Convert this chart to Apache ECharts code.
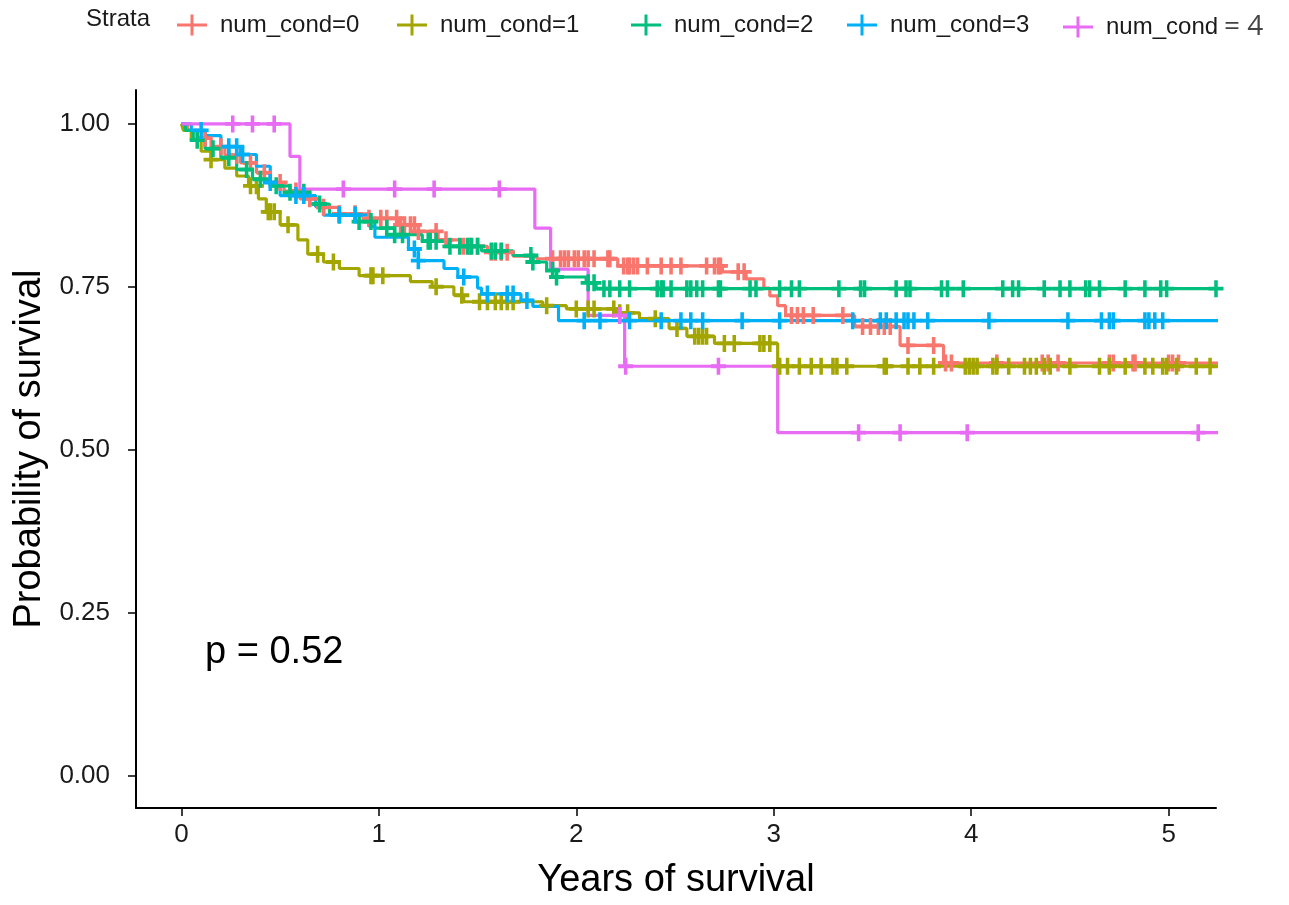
<!DOCTYPE html>
<html>
<head>
<meta charset="utf-8">
<script src="https://cdn.jsdelivr.net/npm/echarts@6/dist/echarts.min.js"></script>
<style>
html,body{margin:0;padding:0;background:#fff;}
#chart{width:1289px;height:905px;}
</style>
</head>
<body>
<div id="chart"></div>
<script>
// ---------- DATA ----------
const strata = ['num_cond=0','num_cond=1','num_cond=2','num_cond=3','num_cond=4'];
const colors = ['#F8766D','#A3A500','#00BF7D','#00B0F6','#E76BF3'];
const xTicks = [0,1,2,3,4,5];
const yTicks = [0,0.25,0.5,0.75,1];
const pValueText = 'p = 0.52';

// step times and survival (value holds from time onward)
const time0 = [0,0.03,0.08,0.15,0.22,0.30,0.38,0.45,0.52,0.60,0.70,0.80,0.95,1.10,1.20,1.30,1.42,1.55,1.68,1.80,2.21,2.74,2.86,2.95,2.98,3.02,3.06,3.41,3.64,3.86,5.25];
const surv0 = [1,0.99,0.978,0.965,0.952,0.94,0.925,0.91,0.897,0.885,0.872,0.862,0.855,0.845,0.835,0.822,0.812,0.803,0.797,0.793,0.782,0.773,0.762,0.748,0.736,0.721,0.706,0.689,0.66,0.633,0.633];
const cens0 = [0.12,0.2,0.28,0.35,0.42,0.5,0.58,0.65,0.72,0.8,0.88,0.95,1.01,1.04,1.09,1.11,1.13,1.16,1.18,1.20,1.29,1.34,1.43,1.46,1.50,1.57,1.59,1.62,1.65,1.88,1.92,1.94,1.96,1.99,2.01,2.04,2.06,2.09,2.16,2.17,2.24,2.26,2.27,2.29,2.31,2.36,2.43,2.48,2.53,2.66,2.70,2.72,2.73,2.82,2.85,3.09,3.12,3.15,3.20,3.35,3.45,3.49,3.53,3.56,3.59,3.68,3.81,3.87,3.90,4.13,4.36,4.39,4.44,4.70,4.72,4.82,4.83,5.0,5.02,5.05];

const time1 = [0,0.01,0.05,0.10,0.15,0.22,0.28,0.34,0.39,0.43,0.50,0.59,0.64,0.72,0.80,0.90,1.16,1.27,1.38,1.43,1.83,1.95,2.20,2.32,2.47,2.56,2.70,3.02,5.25];
const surv1 = [1,0.99,0.975,0.958,0.945,0.932,0.92,0.905,0.885,0.865,0.845,0.822,0.80,0.788,0.778,0.767,0.758,0.75,0.737,0.727,0.721,0.716,0.71,0.701,0.686,0.674,0.663,0.628,0.628];
const cens1 = [0.15,0.35,0.38,0.44,0.45,0.47,0.54,0.69,0.77,0.96,0.97,1.02,1.29,1.42,1.51,1.55,1.59,1.62,1.65,1.68,1.85,2.0,2.06,2.09,2.19,2.22,2.26,2.4,2.51,2.6,2.62,2.64,2.66,2.75,2.80,2.93,2.95,2.98,3.03,3.07,3.13,3.19,3.24,3.30,3.32,3.37,3.56,3.57,3.68,3.74,3.81,3.97,3.99,4.01,4.03,4.11,4.13,4.19,4.27,4.30,4.33,4.37,4.40,4.50,4.65,4.70,4.78,4.88,4.92,4.97,4.99,5.04,5.14,5.21,5.25];

const time2 = [0,0.02,0.06,0.12,0.20,0.28,0.36,0.45,0.55,0.65,0.75,0.88,0.98,1.08,1.22,1.35,1.52,1.68,1.78,1.85,1.90,2.05,2.10,5.25];
const surv2 = [1,0.99,0.975,0.962,0.948,0.93,0.915,0.905,0.895,0.877,0.86,0.85,0.84,0.83,0.82,0.812,0.805,0.798,0.788,0.775,0.765,0.756,0.747,0.747];
const cens2 = [0.08,0.16,0.24,0.33,0.4,0.48,0.55,0.62,0.7,0.8,0.9,0.96,1.04,1.08,1.12,1.25,1.26,1.29,1.36,1.41,1.45,1.47,1.50,1.57,1.59,1.62,1.77,1.78,1.88,1.90,2.06,2.09,2.14,2.17,2.22,2.27,2.41,2.43,2.44,2.48,2.56,2.58,2.61,2.64,2.72,2.73,2.88,2.91,3.03,3.09,3.13,3.33,3.44,3.46,3.62,3.67,3.69,3.85,3.88,3.96,4.16,4.21,4.24,4.37,4.45,4.50,4.58,4.60,4.65,4.78,4.88,4.96,4.99,5.24];

const time3 = [0,0.05,0.12,0.20,0.30,0.38,0.45,0.50,0.68,0.72,0.95,0.98,1.15,1.20,1.33,1.40,1.50,1.52,1.72,1.78,1.91,5.25];
const surv3 = [1,0.99,0.982,0.965,0.953,0.935,0.91,0.89,0.873,0.86,0.843,0.826,0.808,0.79,0.778,0.765,0.748,0.739,0.729,0.72,0.698,0.698];
const cens3 = [0.1,0.24,0.28,0.31,0.45,0.58,0.62,0.8,0.88,1.18,1.2,1.43,1.55,1.65,1.68,1.75,2.04,2.12,2.27,2.43,2.53,2.58,2.64,2.84,3.03,3.40,3.54,3.57,3.62,3.66,3.68,3.71,3.78,4.09,4.49,4.66,4.70,4.72,4.88,4.90,4.93,4.97,5.25];

const time4 = [0,0.55,0.60,1.79,1.87,2.06,2.245,3.02,5.25];
const surv4 = [1,0.95,0.90,0.84,0.777,0.706,0.628,0.526,0.526];
const cens4 = [0.26,0.36,0.47,0.82,1.08,1.28,1.61,2.22,2.25,2.72,3.43,3.64,3.98,5.15];

// ---------- BUILD ----------
const times = [time0,time1,time2,time3,time4];
const survs = [surv0,surv1,surv2,surv3,surv4];
const cens = [cens0,cens1,cens2,cens3,cens4];

function survAt(t, s, x){
  let v = s[0];
  for (let i=0;i<t.length;i++){ if (t[i] <= x) v = s[i]; else break; }
  return v;
}

const plusIcon = 'path://M0,6.6L16,6.6L16,10.4L0,10.4Z M6.1,0L9.9,0L9.9,17L6.1,17Z';
const legendIcon = 'path://M0,9L30,9L30,12L0,12Z M13.5,0L16.5,0L16.5,21L13.5,21Z';
const FONT = 'Liberation Sans, Arial, sans-serif';

const series = [];
strata.forEach((name,i)=>{
  series.push({
    name: name, type:'line', step:'end', symbol:'none', silent:true,
    data: times[i].map((t,j)=>[t, survs[i][j]]),
    lineStyle:{color:colors[i], width:3.2},
    itemStyle:{color:colors[i]},
    z: 2
  });
});
strata.forEach((name,i)=>{
  series.push({
    name: name, type:'scatter', symbol: plusIcon, symbolSize:[15,17], silent:true,
    data: cens[i].map(c=>[c, survAt(times[i], survs[i], c)]),
    itemStyle:{color:colors[i], opacity:1},
    z: 3
  });
});

const legendLefts = [172,392,626,842,1058];
const legends = strata.map((name,i)=>({
  show:true, top: 8, left: legendLefts[i], orient:'horizontal',
  data:[{name:name, icon: legendIcon, itemStyle:{color:colors[i]}}],
  itemWidth:30, itemHeight:21, selectedMode:false,
  formatter: i===4 ? 'num_cond{b|= 4}' : '{name}',
  textStyle:{fontFamily:FONT, fontSize:24, color:'#1a1a1a', padding:[0,0,0,8],
    rich:{b:{fontFamily:'Open Sans', fontSize:28, color:'#444', padding:[0,0,0,6]}}}
}));

const chart = echarts.init(document.getElementById('chart'), null, {renderer:'canvas'});
chart.setOption({
  animation:false,
  backgroundColor:'#fff',
  legend: legends,
  graphic:[
    {type:'text', left:86, top:7, style:{text:'Strata', fontFamily:FONT, fontSize:24, fill:'#1a1a1a'}},
    {type:'text', left:205, top:634, style:{text:pValueText, fontFamily:FONT, fontSize:38, fill:'#000'}}
  ],
  grid:{left:136, right:73, top:90, bottom:93, containLabel:false},
  xAxis:{
    type:'value', min:-0.23, max:5.24,
    name:'Years of survival', nameLocation:'middle', nameGap:54,
    nameTextStyle:{fontFamily:FONT, fontSize:38, color:'#000'},
    axisLine:{show:true, onZero:false, lineStyle:{color:'#000', width:2}},
    axisTick:{show:true, length:8, lineStyle:{color:'#000', width:1.5}, customValues:xTicks},
    axisLabel:{fontFamily:FONT, fontSize:26, color:'#1a1a1a', margin:14, customValues:xTicks},
    splitLine:{show:false}
  },
  yAxis:{
    type:'value', min:-0.05, max:1.052,
    name:'Probability of survival', nameLocation:'middle', nameGap:78, nameRotate:90,
    nameTextStyle:{fontFamily:FONT, fontSize:38, color:'#000'},
    axisLine:{show:true, onZero:false, lineStyle:{color:'#000', width:2}},
    axisTick:{show:true, length:8, lineStyle:{color:'#000', width:1.5}, customValues:yTicks},
    axisLabel:{fontFamily:FONT, fontSize:26, color:'#1a1a1a', margin:26, customValues:yTicks,
      formatter:(v)=>v.toFixed(2)},
    splitLine:{show:false}
  },
  series: series
});
</script>
</body>
</html>
